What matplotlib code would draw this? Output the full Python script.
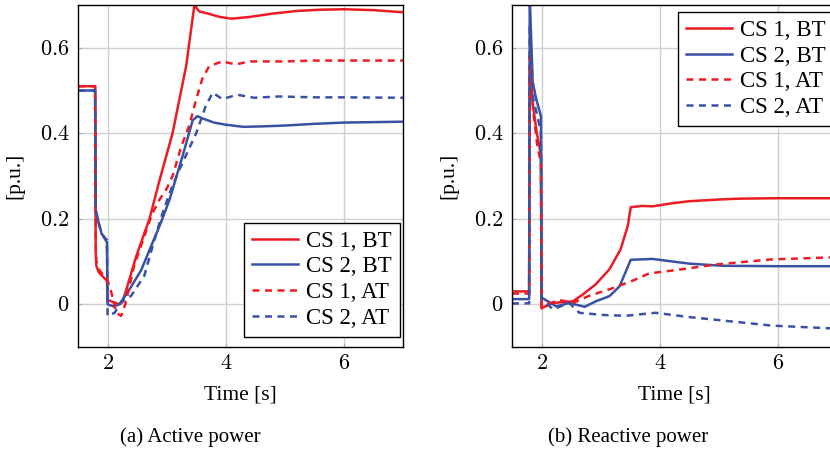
import matplotlib
matplotlib.use("Agg")
import matplotlib.pyplot as plt
from matplotlib.ticker import FuncFormatter

plt.rcParams['font.family'] = ['Liberation Serif', 'DejaVu Serif']
plt.rcParams['mathtext.fontset'] = 'cm'

# Active power (a)
p_t_cs1_bt = [1.5, 1.79, 1.80, 1.81, 1.85, 1.92, 1.99, 2.0, 2.1, 2.2, 2.25, 2.32, 2.48, 2.71, 2.88, 3.1, 3.33, 3.47,
              3.55, 3.7, 3.9, 4.1, 4.4, 4.8, 5.2, 5.6, 6.0, 6.5, 7.0]
p_v_cs1_bt = [0.51, 0.51, 0.12, 0.09, 0.075, 0.065, 0.055, 0.01, 0.005, 0.0, 0.005, 0.035, 0.11, 0.2, 0.29, 0.40, 0.557,
              0.70, 0.685, 0.68, 0.672, 0.668, 0.672, 0.68, 0.686, 0.689, 0.69, 0.688, 0.683]

p_t_cs2_bt = [1.5, 1.79, 1.80, 1.85, 1.9, 1.99, 2.0, 2.1, 2.2, 2.35, 2.57, 2.75, 2.9, 3.05, 3.27, 3.44, 3.52, 3.6, 3.8,
              4.0, 4.3, 4.6, 5.0, 5.5, 6.0, 6.5, 7.0]
p_v_cs2_bt = [0.50, 0.50, 0.22, 0.19, 0.165, 0.145, 0.0, -0.005, 0.0, 0.03, 0.08, 0.14, 0.19, 0.245, 0.347, 0.43, 0.44,
              0.435, 0.425, 0.42, 0.415, 0.416, 0.418, 0.422, 0.425, 0.426, 0.427]

p_t_cs1_at = [1.5, 1.79, 1.80, 1.81, 1.86, 1.92, 1.99, 2.06, 2.15, 2.23, 2.3, 2.45, 2.6, 2.75, 2.88, 3.0, 3.1, 3.25,
              3.38, 3.5, 3.6, 3.72, 3.94, 4.17, 4.4, 5.0, 5.5, 6.0, 7.0]
p_v_cs1_at = [0.51, 0.51, 0.14, 0.1, 0.08, 0.07, 0.06, 0.03, -0.02, -0.027, 0.0, 0.09, 0.15, 0.21, 0.245, 0.27, 0.3,
              0.37, 0.417, 0.479, 0.526, 0.557, 0.568, 0.561, 0.568, 0.568, 0.57, 0.57, 0.57]

p_t_cs2_at = [1.5, 1.79, 1.80, 1.85, 1.9, 1.99, 2.0, 2.12, 2.23, 2.4, 2.62, 2.75, 2.9, 3.05, 3.2, 3.4, 3.5, 3.66, 3.78,
              3.94, 4.2, 4.48, 4.9, 5.5, 6.0, 7.0]
p_v_cs2_at = [0.50, 0.50, 0.22, 0.19, 0.165, 0.15, -0.027, -0.02, 0.005, 0.02, 0.066, 0.13, 0.2, 0.26, 0.31, 0.37, 0.40,
              0.463, 0.495, 0.48, 0.49, 0.483, 0.486, 0.484, 0.484, 0.483]

# Reactive power (b)
q_t_cs1_bt = [1.5, 1.79, 1.80, 1.85, 1.92, 1.99, 2.0, 2.02, 2.19, 2.53, 2.7, 2.92, 3.15, 3.34, 3.46, 3.51, 3.7, 3.88,
              4.2, 4.5, 5.0, 5.34, 6.0, 7.0]
q_v_cs1_bt = [0.03, 0.03, 0.54, 0.47, 0.40, 0.35, -0.01, -0.008, 0.003, 0.007, 0.023, 0.047, 0.082, 0.129, 0.184, 0.227,
              0.23, 0.229, 0.236, 0.241, 0.245, 0.247, 0.248, 0.248]

q_t_cs2_bt = [1.5, 1.79, 1.80, 1.85, 1.91, 1.99, 2.0, 2.02, 2.25, 2.47, 2.73, 2.92, 3.15, 3.32, 3.51, 3.88, 4.5, 5.06,
              6.0, 7.0]
q_v_cs2_bt = [0.012, 0.012, 0.72, 0.52, 0.48, 0.44, 0.015, 0.014, -0.005, 0.003, -0.006, 0.007, 0.019, 0.042, 0.104,
              0.106, 0.095, 0.09, 0.089, 0.089]

q_t_cs1_at = [1.5, 1.79, 1.80, 1.86, 1.93, 1.99, 2.0, 2.02, 2.3, 2.53, 2.81, 3.15, 3.54, 3.82, 4.33, 4.95, 5.9, 7.0]
q_v_cs1_at = [0.025, 0.025, 0.58, 0.45, 0.37, 0.33, -0.005, -0.004, 0.01, 0.003, 0.02, 0.035, 0.055, 0.072, 0.081,
              0.093, 0.105, 0.11]

q_t_cs2_at = [1.5, 1.79, 1.80, 1.86, 1.93, 1.99, 2.0, 2.02, 2.19, 2.47, 2.64, 3.03, 3.42, 3.93, 4.5, 5.06, 5.9, 7.0]
q_v_cs2_at = [0.002, 0.002, 0.65, 0.48, 0.44, 0.40, 0.012, 0.012, -0.012, 0.003, -0.02, -0.025, -0.027, -0.02, -0.03,
              -0.038, -0.05, -0.057]

labels = ["CS 1, BT", "CS 2, BT", "CS 1, AT", "CS 2, AT"]
red = '#ec1c24'
blue = '#3953a4'
dash = (0, (2.8, 2.2))

fig = plt.figure(figsize=(8.3, 4.51), dpi=100)
ax1 = fig.add_axes([78 / 830, 1 - 347 / 451, 325 / 830, 342 / 451])
ax2 = fig.add_axes([512 / 830, 1 - 347 / 451, 325 / 830, 342 / 451])

series = [
    (ax1, [(p_t_cs1_bt, p_v_cs1_bt), (p_t_cs2_bt, p_v_cs2_bt), (p_t_cs1_at, p_v_cs1_at), (p_t_cs2_at, p_v_cs2_at)]),
    (ax2, [(q_t_cs1_bt, q_v_cs1_bt), (q_t_cs2_bt, q_v_cs2_bt), (q_t_cs1_at, q_v_cs1_at), (q_t_cs2_at, q_v_cs2_at)]),
]
styles = [(red, '-'), (blue, '-'), (red, dash), (blue, dash)]

for ax, data in series:
    for (t, v), (c, ls), lab in zip(data, styles, labels):
        ax.plot(t, v, color=c, linestyle=ls, linewidth=1.8, label=lab)
    ax.set_xlim(1.5, 7)
    ax.set_ylim(-0.1, 0.7)
    ax.set_xticks([2, 4, 6])
    ax.set_yticks([0, 0.2, 0.4, 0.6])
    ax.xaxis.set_major_formatter(FuncFormatter(lambda x, p: f'${x:g}$'))
    ax.yaxis.set_major_formatter(FuncFormatter(lambda x, p: f'${x:g}$'))
    ax.tick_params(direction='in', length=3, color='#aaaaaa', labelsize=16, pad=6)
    ax.grid(True, color='#d0d0d0', linewidth=1)
    ax.set_axisbelow(True)
    for s in ax.spines.values():
        s.set_linewidth(1.0)
    ax.set_xlabel("Time [s]", fontsize=15.5, labelpad=8)
    ax.set_ylabel("[p.u.]", fontsize=15.5, labelpad=11)

leg_kw = dict(fontsize=16.5, frameon=True, fancybox=False, edgecolor='black', framealpha=1,
              borderaxespad=0, handlelength=2.0, handletextpad=0.35, labelspacing=0.2, borderpad=0.35)
l1 = ax1.legend(loc='lower right', bbox_to_anchor=(0.99, 0.03), **leg_kw)
l2 = ax2.legend(loc='upper right', bbox_to_anchor=(0.99, 0.98), **leg_kw)
for leg in (l1, l2):
    leg.get_frame().set_linewidth(1.0)

fig.text(190 / 830, 1 - 437 / 451, "(a) Active power", ha='center', va='center', fontsize=15)
fig.text(628 / 830, 1 - 437 / 451, "(b) Reactive power", ha='center', va='center', fontsize=15)

plt.savefig("out.png", dpi=100)
